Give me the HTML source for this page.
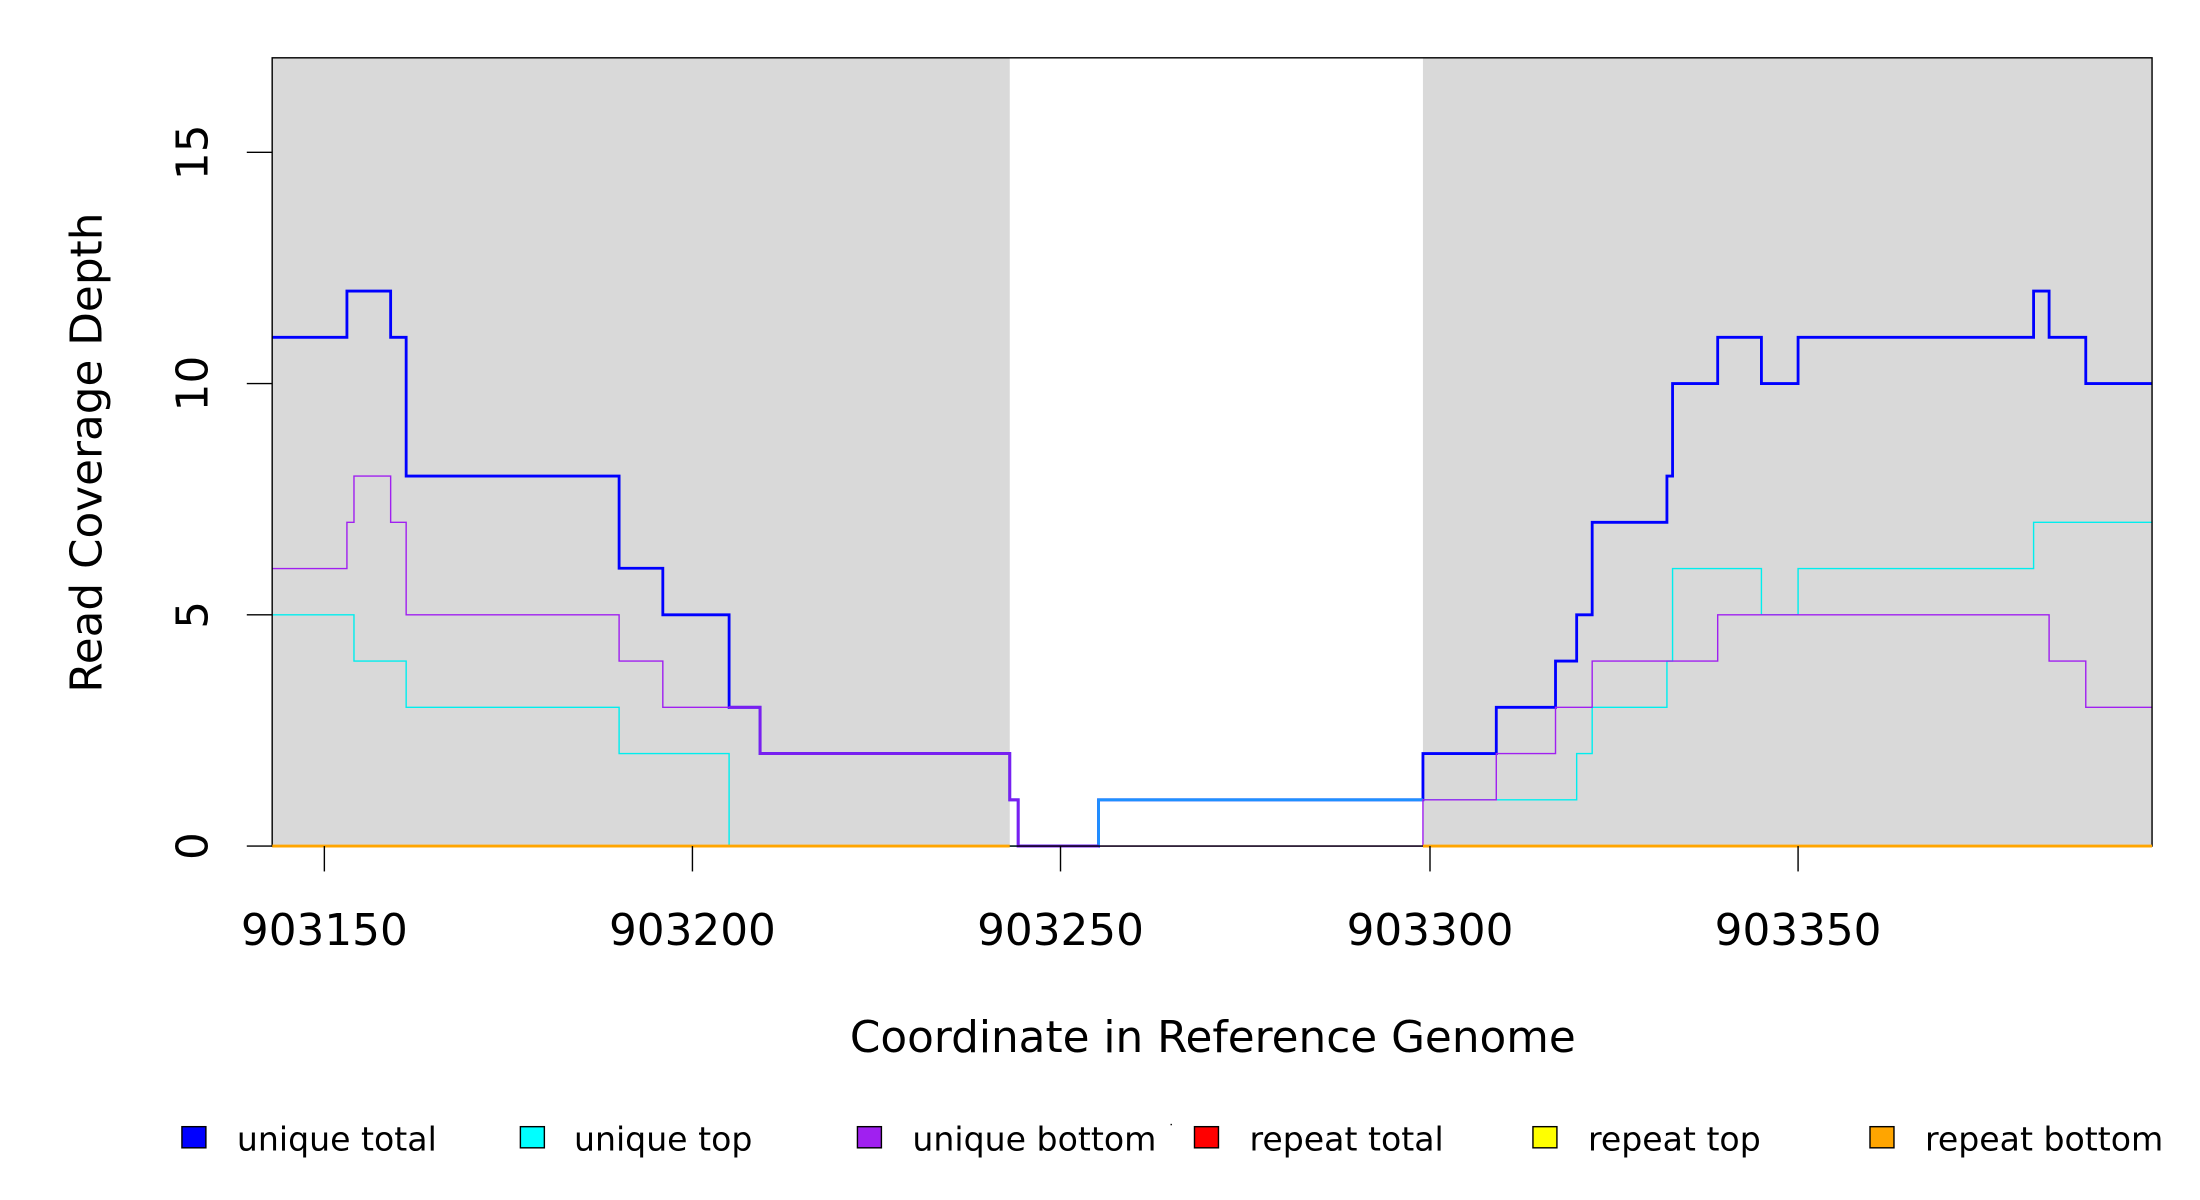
<!DOCTYPE html>
<html><head><meta charset="utf-8"><style>
html,body{margin:0;padding:0;background:#fff;}
svg{display:block;}
text{font-family:"DejaVu Sans","Liberation Sans",sans-serif;fill:#000;}
</style></head><body>
<svg width="2200" height="1200" viewBox="0 0 1560 851" preserveAspectRatio="none" xmlns="http://www.w3.org/2000/svg">
<rect x="0" y="0" width="1560" height="851" fill="#fff"/>
<rect x="193" y="41" width="523" height="559" fill="#d9d9d9"/>
<rect x="1009" y="41" width="517" height="559" fill="#d9d9d9"/>
<!-- unique total -->
<polyline fill="none" stroke="#0000ff" stroke-width="2" points="193,239.2 246,239.2 246,206.4 277,206.4 277,239.2 288,239.2 288,337.6 439,337.6 439,403 470,403 470,436 517,436 517,501.6 539,501.6 539,534.4 716,534.4 716,567.2 722,567.2 722,600 779,600 779,567.2 1009,567.2 1009,534.4 1061,534.4 1061,501.6 1103,501.6 1103,468.8 1118,468.8 1118,436 1129,436 1129,370.4 1182,370.4 1182,337.6 1186,337.6 1186,272 1218,272 1218,239.2 1249,239.2 1249,272 1275,272 1275,239.2 1442,239.2 1442,206.4 1453,206.4 1453,239.2 1479,239.2 1479,272 1526,272"/>
<!-- unique top -->
<polyline fill="none" stroke="#00eeee" stroke-width="1" points="193,436 251,436 251,468.8 288,468.8 288,501.6 439,501.6 439,534.4 517,534.4 517,600 779,600 779,567.2 1118,567.2 1118,534.4 1129,534.4 1129,501.6 1182,501.6 1182,468.8 1186,468.8 1186,403.2 1249,403.2 1249,436 1275,436 1275,403.2 1442,403.2 1442,370.4 1526,370.4"/>
<polyline fill="none" stroke="#1e90ff" stroke-width="2" points="779,600 779,567.2 1009,567.2"/>
<!-- unique bottom -->
<polyline fill="none" stroke="#a020f0" stroke-width="1" points="193,403.2 246,403.2 246,370.4 251,370.4 251,337.6 277,337.6 277,370.4 288,370.4 288,436 439,436 439,468.8 470,468.8 470,501.6 539,501.6 539,534.4 716,534.4 716,567.2 722,567.2 722,600 1009,600 1009,567.2 1061,567.2 1061,534.4 1103,534.4 1103,501.6 1129,501.6 1129,468.8 1218,468.8 1218,436 1453,436 1453,468.8 1479,468.8 1479,501.6 1526,501.6"/>
<polyline fill="none" stroke="#7a1ff0" stroke-width="2" points="517,501.6 539,501.6 539,534.4 716,534.4 716,567.2 722,567.2 722,600 779,600"/>
<!-- box -->
<rect x="193" y="41" width="1333" height="559" fill="none" stroke="#000" stroke-width="1"/>
<!-- repeat lines -->
<polyline points="193,600 716,600" fill="none" stroke="#ffa500" stroke-width="2"/>
<polyline points="1009,600 1526,600" fill="none" stroke="#ffa500" stroke-width="2"/>
<g stroke="#000" stroke-width="1">
<line x1="175" y1="600" x2="193" y2="600"/><line x1="175" y1="436" x2="193" y2="436"/>
<line x1="175" y1="272" x2="193" y2="272"/><line x1="175" y1="108" x2="193" y2="108"/>
<line x1="230" y1="600" x2="230" y2="618"/><line x1="491" y1="600" x2="491" y2="618"/>
<line x1="752" y1="600" x2="752" y2="618"/><line x1="1014" y1="600" x2="1014" y2="618"/>
<line x1="1275" y1="600" x2="1275" y2="618"/>
</g>
<g font-size="31" text-anchor="middle">
<text transform="translate(147,600) rotate(-90)">0</text>
<text transform="translate(147,436) rotate(-90)">5</text>
<text transform="translate(147,272) rotate(-90)">10</text>
<text transform="translate(147,108) rotate(-90)">15</text>
<text x="230" y="670">903150</text>
<text x="491" y="670">903200</text>
<text x="752" y="670">903250</text>
<text x="1014" y="670">903300</text>
<text x="1275" y="670">903350</text>
</g>
<text x="860" y="746" font-size="31" text-anchor="middle">Coordinate in Reference Genome</text>
<text transform="translate(72,321) rotate(-90)" font-size="31" text-anchor="middle">Read Coverage Depth</text>
<g stroke="#000" stroke-width="1">
<rect x="129" y="799" width="17" height="15" fill="#0000ff"/>
<rect x="369" y="799" width="17" height="15" fill="#00ffff"/>
<rect x="608" y="799" width="17" height="15" fill="#a020f0"/>
<rect x="847" y="799" width="17" height="15" fill="#ff0000"/>
<rect x="1087" y="799" width="17" height="15" fill="#ffff00"/>
<rect x="1326" y="799" width="17" height="15" fill="#ffa500"/>
</g>
<g font-size="23.5">
<text x="168" y="816">unique total</text>
<text x="407" y="816">unique top</text>
<text x="647" y="816">unique bottom</text>
<text x="886" y="816">repeat total</text>
<text x="1126" y="816">repeat top</text>
<text x="1365" y="816">repeat bottom</text>
</g>
<rect x="830" y="797" width="1" height="1" fill="#000"/>
</svg>
</body></html>
